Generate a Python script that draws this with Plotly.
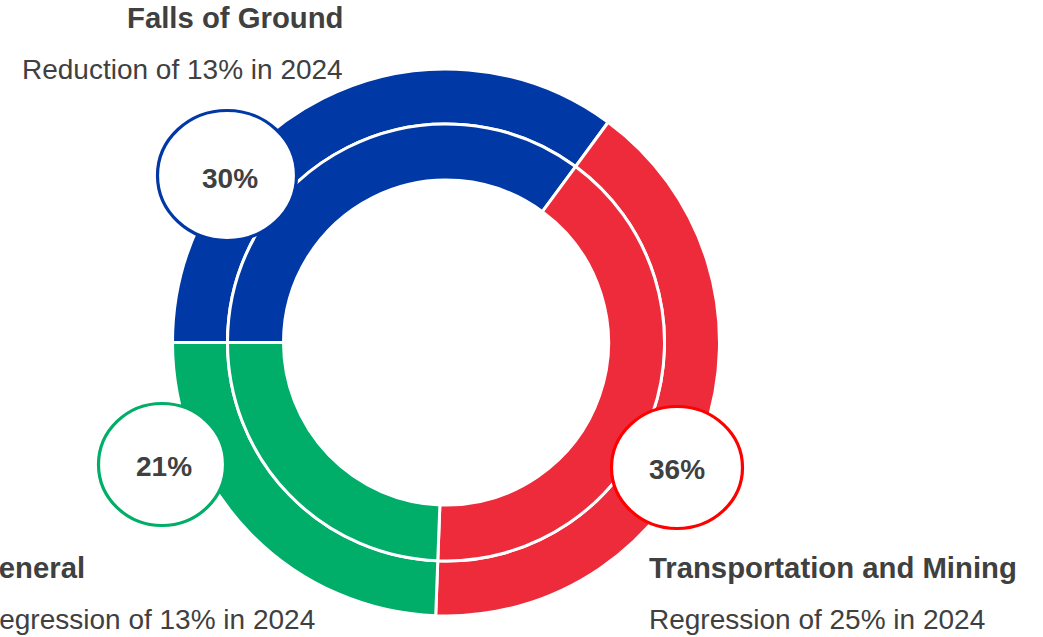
import plotly.graph_objects as go

W, H = 1043, 637

# Data
categories = ["Falls of Ground", "Transportation and Mining", "General"]
shares = [35.1, 40.5, 24.4]          # slice sizes
pct_labels = ["30%", "36%", "21%"]
subtitles = ["Reduction of 13% in 2024", "Regression of 25% in 2024", "Regression of 13% in 2024"]

seg_colors = ["#0039A6", "#EE2B3B", "#00AD69"]
ring_colors = ["#0039A6", "#FF0000", "#00AD69"]
TEXT = "#404040"
FONT = "Liberation Sans, Arial, sans-serif"

cx, cy = 446, 342.5
lw = 3


def px(x):
    return x / W


def py(y):
    return 1 - y / H


def pie_domain(r):
    return dict(x=[px(cx - r), px(cx + r)], y=[py(cy + r), py(cy - r)])


fig = go.Figure()
for r_out, r_in in [(273.5, 218.5), (218.5, 162.5)]:
    fig.add_trace(go.Pie(
        values=shares, labels=categories, sort=False, direction="clockwise",
        rotation=-90, hole=r_in / r_out, domain=pie_domain(r_out),
        marker=dict(colors=seg_colors, line=dict(color="white", width=lw)),
        textinfo="none", hoverinfo="skip", showlegend=False,
    ))

# label bubbles (x0, y0, x1, y1 in pixels)
bubbles = [(157.5, 110.5, 296.5, 240.5), (611.5, 406.5, 742.5, 528.5), (98.5, 403.5, 225.5, 525.5)]
bubble_text_pos = [(230, 178), (677, 469), (164, 466.5)]
shapes = []
for (x0, y0, x1, y1), col in zip(bubbles, ring_colors):
    shapes.append(dict(type="circle", xref="paper", yref="paper",
                       x0=px(x0), x1=px(x1), y0=py(y1), y1=py(y0),
                       fillcolor="white", line=dict(color=col, width=3.2), layer="above"))

ann = []
for (tx, ty), t in zip(bubble_text_pos, pct_labels):
    ann.append(dict(x=px(tx), y=py(ty), xref="paper", yref="paper", text=f"<b>{t}</b>",
                    showarrow=False, xanchor="center", yanchor="middle",
                    font=dict(family=FONT, size=28, color=TEXT), borderpad=0, borderwidth=0))

# title blocks: (title x, subtitle x, title y, subtitle y, xanchor)
blocks = [(343, 343, 18, 69, "right"), (649, 649, 567, 619, "left"), (-24, -21, 567, 619, "left")]
for (tx, sx, ty, sy, xa), title, sub in zip(blocks, categories, subtitles):
    ann.append(dict(x=px(tx), y=py(ty), xref="paper", yref="paper", text=f"<b>{title}</b>",
                    showarrow=False, xanchor=xa, yanchor="middle", align=xa,
                    font=dict(family=FONT, size=29.3, color=TEXT), borderpad=0, borderwidth=0))
    ann.append(dict(x=px(sx), y=py(sy), xref="paper", yref="paper", text=sub,
                    showarrow=False, xanchor=xa, yanchor="middle", align=xa,
                    font=dict(family=FONT, size=28, color=TEXT), borderpad=0, borderwidth=0))

fig.update_layout(width=W, height=H, margin=dict(l=0, r=0, t=0, b=0),
                  paper_bgcolor="white", plot_bgcolor="white",
                  shapes=shapes, annotations=ann)

fig.write_html("out.html", config={"displayModeBar": False},
               post_script="document.body.style.margin='0';document.body.style.overflow='hidden';")
